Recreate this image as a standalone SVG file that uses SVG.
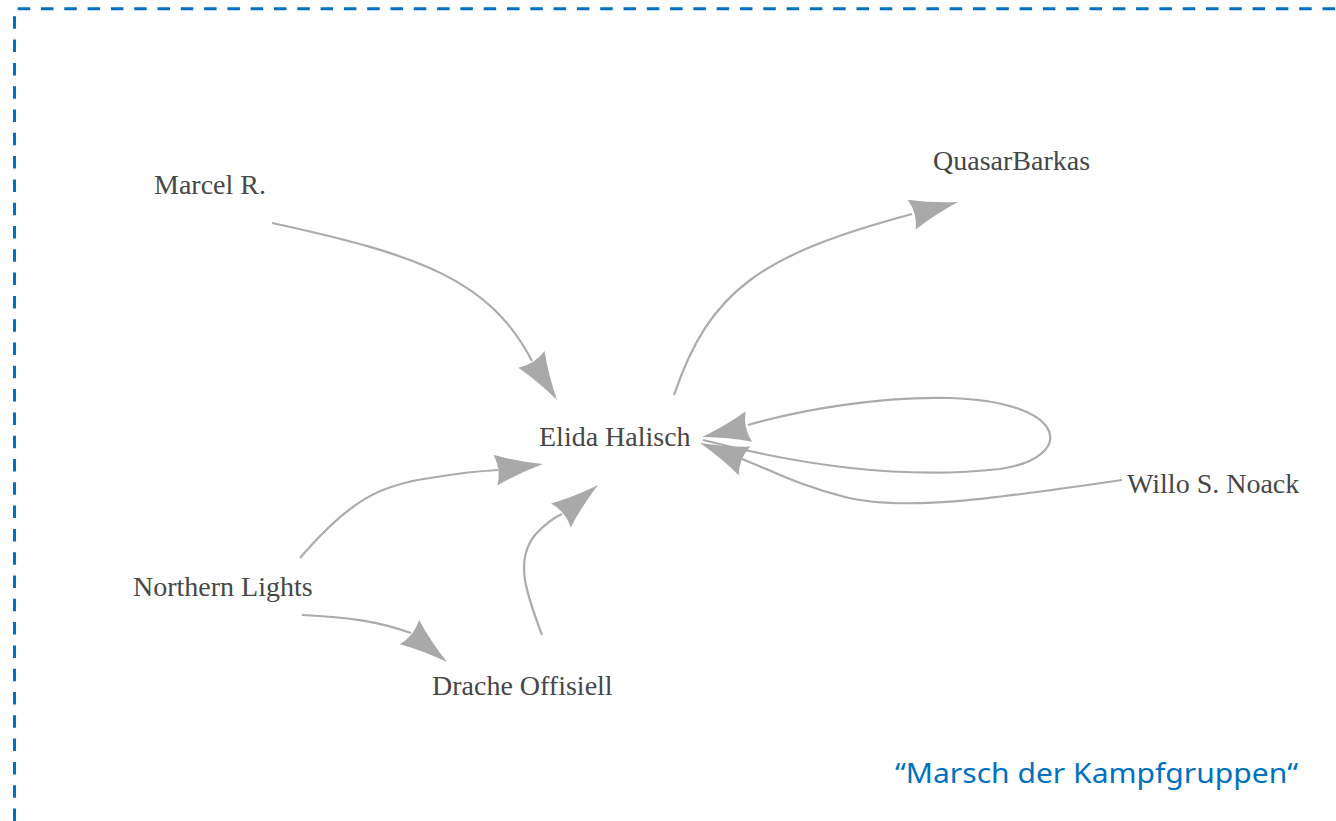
<svg xmlns="http://www.w3.org/2000/svg" width="1336" height="821" viewBox="0 0 1336 821">
  <style>
    .frame { fill: none; stroke: #0070C0; stroke-width: 3; stroke-dasharray: 12.5 10.8; }
    .label { font-family: "Liberation Serif", "Times New Roman", serif; font-size: 28px; fill: #474747; }
    .edge { fill: none; stroke: #ABABAB; stroke-width: 2.2; }
    .head { fill: #A9A9A9; }
    .caption { font-family: "Noto Sans", "Lato", sans-serif; font-size: 28px; fill: #0070C0; }
  </style>
  <defs>
    <!-- arrowhead pointing along +x, tip at origin -->
    <path id="arrow" d="M0,0 Q-26,-6 -48,-15.5 Q-42,0 -48,15.5 Q-26,6 0,0 Z"/>
  </defs>

  <rect width="1336" height="821" fill="#FFFFFF"/>

  <!-- dashed frame (open to the right and bottom) -->
  <path class="frame" d="M14.5,821 V8.7 H1336"/>

  <g id="connectors">
    <!-- Marcel R. -> Elida Halisch -->
    <path class="edge" d="M272,223 C420,255 490,280 532,361"/>
    <use href="#arrow" class="head" transform="translate(557,400) rotate(57.8)"/>
    <!-- Elida Halisch -> QuasarBarkas -->
    <path class="edge" d="M674,395 C710,290 760,255 912,214"/>
    <use href="#arrow" class="head" transform="translate(958,202) rotate(-15.2)"/>
    <!-- Elida Halisch -> Elida Halisch (self loop) -->
    <path class="edge" d="M703,440 C800,465 900,480 1000,469 C1075,458 1072,402 950,398 C880,396 800,410 748,425"/>
    <use href="#arrow" class="head" transform="translate(702,437) rotate(167.5)"/>
    <!-- Willo S. Noack -> Elida Halisch -->
    <path class="edge" d="M1122,480 C1000,498 905,512 845,497 C800,486 770,470 742,459"/>
    <use href="#arrow" class="head" transform="translate(700,443) rotate(202)"/>
    <!-- Northern Lights -> Elida Halisch -->
    <path class="edge" d="M300,558 C350,500 380,485 430,478 C460,473 480,471 498,470"/>
    <use href="#arrow" class="head" transform="translate(543,464) rotate(-7.4)"/>
    <!-- Drache Offisiell -> Elida Halisch -->
    <path class="edge" d="M542,635 C525,590 515,560 535,535 C545,524 553,518 562,514"/>
    <use href="#arrow" class="head" transform="translate(598,485) rotate(-39.4)"/>
    <!-- Northern Lights -> Drache Offisiell -->
    <path class="edge" d="M302,615 C350,617 380,622 411,633"/>
    <use href="#arrow" class="head" transform="translate(447,662) rotate(38.6)"/>
  </g>

  <g id="node-marcel"><text class="label" x="154" y="194">Marcel R.</text></g>
  <g id="node-quasar"><text class="label" x="933" y="170">QuasarBarkas</text></g>
  <g id="node-elida"><text class="label" x="539" y="446">Elida Halisch</text></g>
  <g id="node-willo"><text class="label" x="1127" y="493">Willo S. Noack</text></g>
  <g id="node-northern"><text class="label" x="133" y="596">Northern Lights</text></g>
  <g id="node-drache"><text class="label" x="432" y="695">Drache Offisiell</text></g>

  <g id="caption"><text class="caption" x="895" y="783" textLength="403" lengthAdjust="spacingAndGlyphs">“Marsch der Kampfgruppen“</text></g>
</svg>
